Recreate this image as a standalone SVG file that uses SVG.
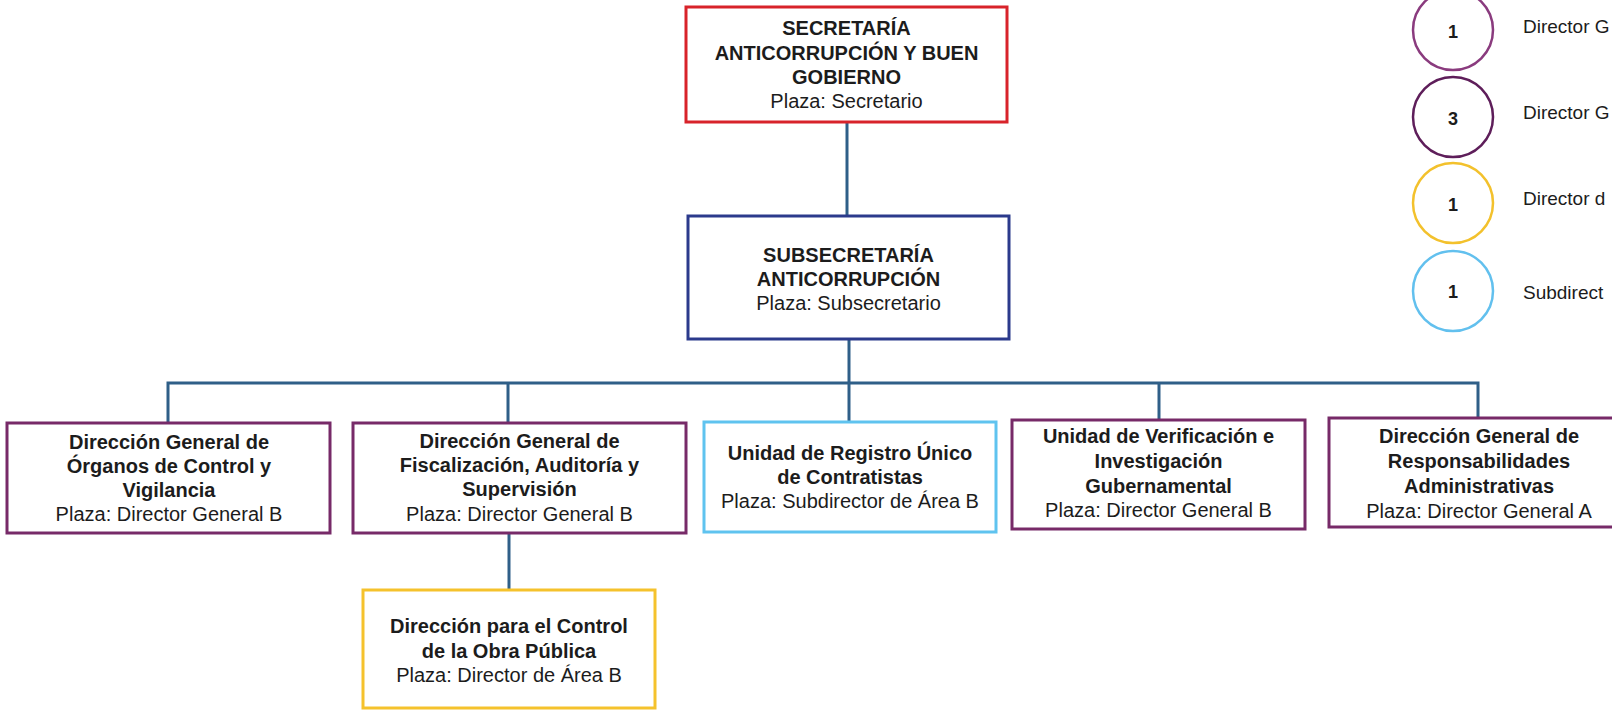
<svg xmlns="http://www.w3.org/2000/svg" width="1612" height="710" viewBox="0 0 1612 710">
<style>
  .box { fill: #ffffff; stroke-width: 3; }
  .red { stroke: #d8232a; }
  .navy { stroke: #2b3a8c; }
  .purple { stroke: #772a68; }
  .lblue { stroke: #5fc3ef; }
  .yellow { stroke: #f5c22c; }
  .conn { stroke: #2f5f88; stroke-width: 3; fill: none; }
  text { font-family: "Liberation Sans", Arial, sans-serif; font-size: 20px; fill: #1c1c1c; text-anchor: middle; }
  .b { font-weight: bold; }
  .leg { text-anchor: start; font-size: 19px; }
  .num { font-weight: bold; font-size: 18px; }
  .circ { fill: none; stroke-width: 2.5; }
</style>
<rect width="1612" height="710" fill="#ffffff"/>

<g id="connectors">
  <line class="conn" x1="847" y1="122" x2="847" y2="216"/>
  <line class="conn" x1="849" y1="339" x2="849" y2="383"/>
  <polyline class="conn" points="168,423 168,383 1478,383 1478,418"/>
  <line class="conn" x1="508" y1="383" x2="508" y2="423"/>
  <line class="conn" x1="849" y1="383" x2="849" y2="422"/>
  <line class="conn" x1="1159" y1="383" x2="1159" y2="420"/>
  <line class="conn" x1="509" y1="533" x2="509" y2="590"/>
</g>

<g id="secretaria">
  <rect class="box red" x="686" y="7" width="321" height="115"/>
  <text class="b" x="846.5" y="35">SECRETARÍA</text>
  <text class="b" x="846.5" y="60">ANTICORRUPCIÓN Y BUEN</text>
  <text class="b" x="846.5" y="84">GOBIERNO</text>
  <text x="846.5" y="108">Plaza: Secretario</text>
</g>

<g id="subsecretaria">
  <rect class="box navy" x="688" y="216" width="321" height="123"/>
  <text class="b" x="848.5" y="262">SUBSECRETARÍA</text>
  <text class="b" x="848.5" y="286">ANTICORRUPCIÓN</text>
  <text x="848.5" y="310">Plaza: Subsecretario</text>
</g>

<g id="dg-organos">
  <rect class="box purple" x="7" y="423" width="323" height="110"/>
  <text class="b" x="169" y="449">Dirección General de</text>
  <text class="b" x="169" y="473">Órganos de Control y</text>
  <text class="b" x="169" y="497">Vigilancia</text>
  <text x="169" y="521">Plaza: Director General B</text>
</g>

<g id="dg-fiscalizacion">
  <rect class="box purple" x="353" y="423" width="333" height="110"/>
  <text class="b" x="519.5" y="448">Dirección General de</text>
  <text class="b" x="519.5" y="472">Fiscalización, Auditoría y</text>
  <text class="b" x="519.5" y="496">Supervisión</text>
  <text x="519.5" y="521">Plaza: Director General B</text>
</g>

<g id="unidad-registro">
  <rect class="box lblue" x="704" y="422" width="292" height="110"/>
  <text class="b" x="850" y="460">Unidad de Registro Único</text>
  <text class="b" x="850" y="484">de Contratistas</text>
  <text x="850" y="508">Plaza: Subdirector de Área B</text>
</g>

<g id="unidad-verificacion">
  <rect class="box purple" x="1012" y="420" width="293" height="109"/>
  <text class="b" x="1158.5" y="443">Unidad de Verificación e</text>
  <text class="b" x="1158.5" y="468">Investigación</text>
  <text class="b" x="1158.5" y="493">Gubernamental</text>
  <text x="1158.5" y="517">Plaza: Director General B</text>
</g>

<g id="dg-responsabilidades">
  <rect class="box purple" x="1329" y="418" width="300" height="109"/>
  <text class="b" x="1479" y="443">Dirección General de</text>
  <text class="b" x="1479" y="468">Responsabilidades</text>
  <text class="b" x="1479" y="493">Administrativas</text>
  <text x="1479" y="518">Plaza: Director General A</text>
</g>

<g id="direccion-obra-publica">
  <rect class="box yellow" x="363" y="590" width="292" height="118"/>
  <text class="b" x="509" y="633">Dirección para el Control</text>
  <text class="b" x="509" y="658">de la Obra Pública</text>
  <text x="509" y="682">Plaza: Director de Área B</text>
</g>

<g id="legend">
  <circle class="circ" cx="1453" cy="30" r="40" stroke="#8a3b7e"/>
  <text class="num" x="1453" y="38">1</text>
  <text class="leg" x="1523" y="33">Director G</text>

  <circle class="circ" cx="1453" cy="117" r="40" stroke="#5e1e5a"/>
  <text class="num" x="1453" y="125">3</text>
  <text class="leg" x="1523" y="119">Director G</text>

  <circle class="circ" cx="1453" cy="203" r="40" stroke="#f3c12c"/>
  <text class="num" x="1453" y="211">1</text>
  <text class="leg" x="1523" y="205">Director d</text>

  <circle class="circ" cx="1453" cy="291" r="40" stroke="#62c0ee"/>
  <text class="num" x="1453" y="298">1</text>
  <text class="leg" x="1523" y="299">Subdirect</text>
</g>
</svg>
